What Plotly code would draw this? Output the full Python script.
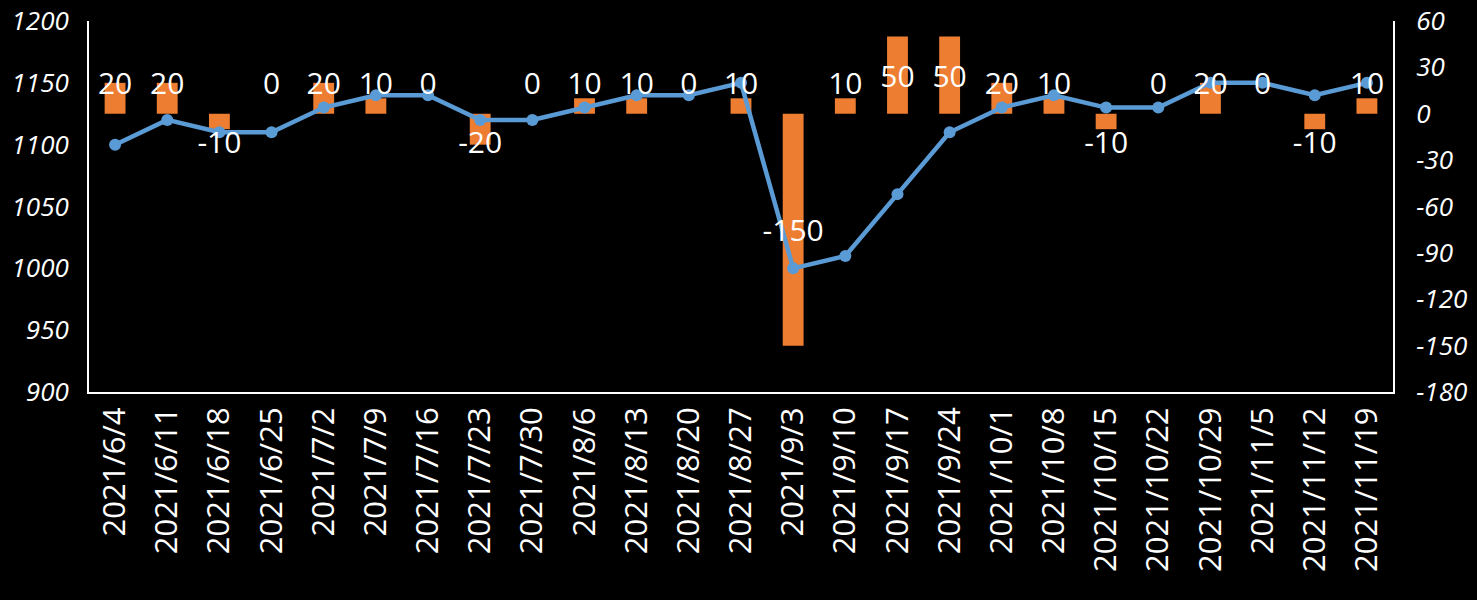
import plotly.graph_objects as go

dates = ["2021/6/4", "2021/6/11", "2021/6/18", "2021/6/25", "2021/7/2", "2021/7/9",
         "2021/7/16", "2021/7/23", "2021/7/30", "2021/8/6", "2021/8/13", "2021/8/20",
         "2021/8/27", "2021/9/3", "2021/9/10", "2021/9/17", "2021/9/24", "2021/10/1",
         "2021/10/8", "2021/10/15", "2021/10/22", "2021/10/29", "2021/11/5",
         "2021/11/12", "2021/11/19"]
change = [20, 20, -10, 0, 20, 10, 0, -20, 0, 10, 10, 0, 10, -150, 10, 50, 50, 20, 10,
          -10, 0, 20, 0, -10, 10]
price = [1100, 1120, 1110, 1110, 1130, 1140, 1140, 1120, 1120, 1130, 1140, 1140, 1150,
         1000, 1010, 1060, 1110, 1130, 1140, 1130, 1130, 1150, 1150, 1140, 1150]

left_ticks = [900, 950, 1000, 1050, 1100, 1150, 1200]
right_ticks = [-180, -150, -120, -90, -60, -30, 0, 30, 60]
right_tick_text = [str(v) for v in right_ticks]
left_tick_text = [str(v) for v in left_ticks]

# label anchor positions (Excel-like placement), small visual offset for glyph centering
label_y = [(max(20, v / 2) if v >= 0 else min(-18, v / 2)) - 2.6 for v in change]

BLUE = "#5B9BD5"
ORANGE = "#ED7D31"
FONT = "Open Sans"

fig = go.Figure()
fig.add_trace(go.Bar(x=dates, y=change, marker=dict(color=ORANGE, line=dict(width=0)),
                     width=0.4, yaxis="y", showlegend=False))
fig.add_trace(go.Scatter(x=dates, y=price, mode="lines+markers", yaxis="y2",
                         line=dict(color=BLUE, width=4.5),
                         marker=dict(size=12, color=BLUE), showlegend=False))
fig.add_trace(go.Scatter(x=dates, y=label_y, mode="text", yaxis="y3",
                         text=[str(v) for v in change], textposition="middle center",
                         textfont=dict(family=FONT, size=30, color="white"),
                         showlegend=False))

fig.update_layout(
    width=1477, height=600,
    paper_bgcolor="black", plot_bgcolor="black",
    margin=dict(l=89, r=84, t=21, b=208),
    xaxis=dict(type="category", range=[-0.5, len(dates) - 0.5], automargin=False,
               showline=True, linecolor="white", linewidth=2,
               showgrid=False, tickangle=-90, ticks="outside", ticklen=1,
               tickcolor="rgba(0,0,0,0)",
               tickfont=dict(family=FONT, size=31, color="white")),
    yaxis=dict(side="right", range=[-180, 60], tickvals=right_ticks,
               ticktext=right_tick_text, automargin=False,
               showline=True, linecolor="white", linewidth=2, showgrid=False,
               zeroline=False, ticks="outside", ticklen=16, tickcolor="rgba(0,0,0,0)",
               tickfont=dict(family=FONT, size=26, color="white", style="italic")),
    yaxis2=dict(side="left", overlaying="y", range=[900, 1200], tickvals=left_ticks,
                ticktext=left_tick_text, automargin=False,
                showline=True, linecolor="white", linewidth=2, showgrid=False,
                zeroline=False, ticks="outside", ticklen=13, tickcolor="rgba(0,0,0,0)",
                tickfont=dict(family=FONT, size=26, color="white", style="italic")),
    yaxis3=dict(overlaying="y", range=[-180, 60], visible=False),
)

fig.write_html("out.html")
